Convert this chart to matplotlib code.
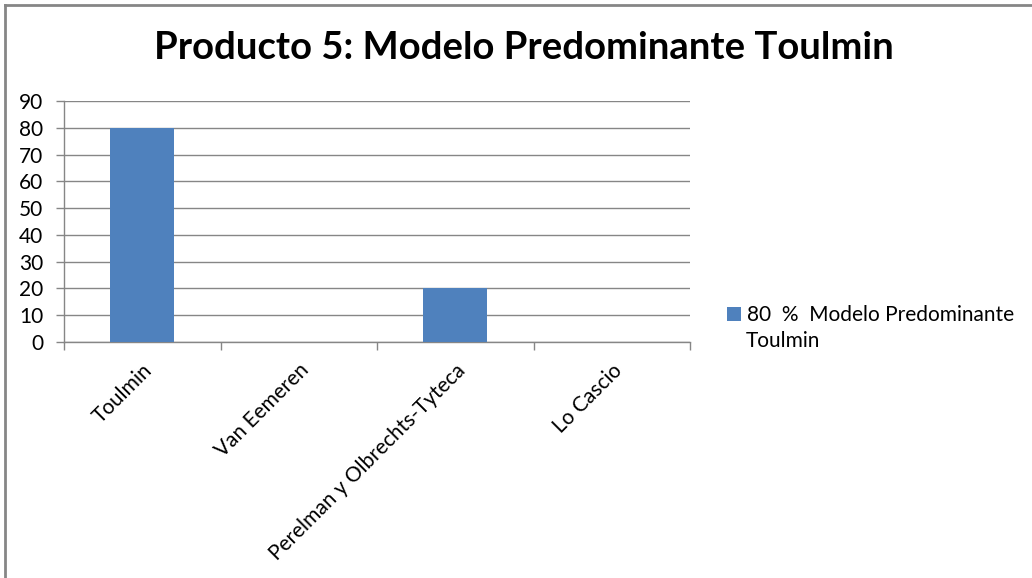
import numpy as np
import matplotlib.pyplot as plt
from matplotlib.lines import Line2D

# Chart data
categories = ["Toulmin", "Van Eemeren", "Perelman y Olbrechts-Tyteca", "Lo Cascio"]
values = [80, 0, 20, 0]
series_label = "80  %  Modelo Predominante"
series_label_cont = "Toulmin"
title = "Producto 5: Modelo Predominante Toulmin"
y_ticks = list(range(0, 100, 10))

BAR_BLUE = "#4F81BD"
GRID_GRAY = "#868686"

plt.rcParams["font.family"] = ["Lato", "DejaVu Sans"]


def main() -> None:
    fig = plt.figure(figsize=(10.32, 5.78), dpi=100)
    ax = fig.add_axes([64 / 1032, 1 - 342 / 578, (690 - 64) / 1032, (342 - 101) / 578])

    x = np.arange(len(categories))
    ax.bar(x, values, width=0.41, color=BAR_BLUE, label=series_label, zorder=3)

    ax.set_xlim(-0.5, len(categories) - 0.5)
    ax.set_ylim(0, 90)
    ax.set_yticks(y_ticks)
    ax.yaxis.grid(True, color=GRID_GRAY, linewidth=1.0, zorder=0)

    # category labels at centres, tick marks at boundaries
    ax.set_xticks(x)
    ax.set_xticklabels(categories, rotation=45, ha="right", rotation_mode="anchor")
    ax.set_xticks(np.arange(-0.5, len(categories)), minor=True)
    ax.tick_params(axis="x", which="major", length=0, labelsize=15, pad=13)
    ax.tick_params(axis="x", which="minor", length=6, color=GRID_GRAY, width=1)
    ax.tick_params(axis="y", length=6, color=GRID_GRAY, width=1, labelsize=15, pad=9)

    for side in ["top", "right"]:
        ax.spines[side].set_visible(False)
    for side in ["left", "bottom"]:
        ax.spines[side].set_color(GRID_GRAY)
        ax.spines[side].set_linewidth(1.0)

    fig.text(524 / 1032, 1 - 48 / 578, title, ha="center", va="center",
             fontsize=27.5, fontweight="bold")

    ax.legend(loc="center left", bbox_to_anchor=(727 / 1032, 1 - 315 / 578),
              bbox_transform=fig.transFigure, frameon=False, fontsize=15,
              handlelength=0.65, handleheight=0.65, handletextpad=0.3,
              borderpad=0, borderaxespad=0)
    fig.text(746 / 1032, 1 - 341 / 578, series_label_cont, ha="left", va="center",
             fontsize=15)

    # chart frame (left and top edges)
    fig.add_artist(Line2D([5 / 1032, 5 / 1032], [0, 1 - 5 / 578], transform=fig.transFigure,
                          color=GRID_GRAY, linewidth=2))
    fig.add_artist(Line2D([5 / 1032, 1], [1 - 5 / 578, 1 - 5 / 578], transform=fig.transFigure,
                          color=GRID_GRAY, linewidth=2))

    plt.savefig("out.png", dpi=100)
    plt.close()


if __name__ == "__main__":
    main()
